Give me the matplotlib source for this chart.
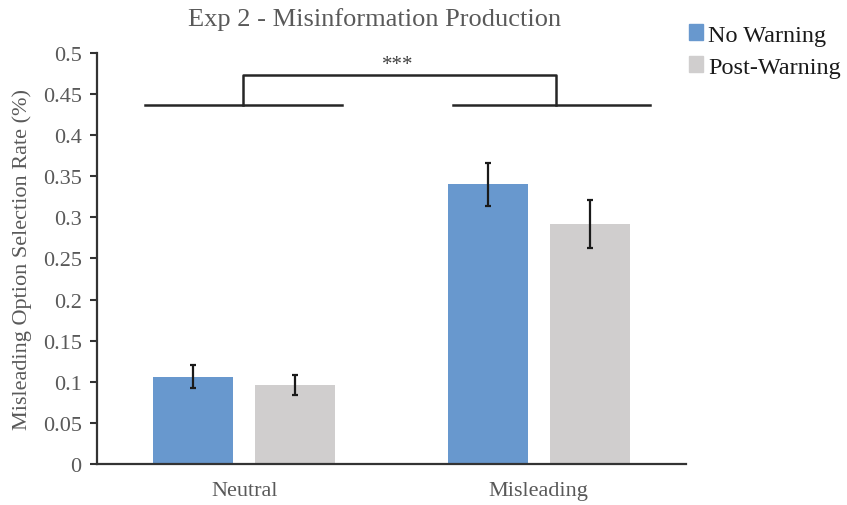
import numpy as np
import matplotlib.pyplot as plt
from matplotlib.patches import Patch

plt.rcParams['font.family'] = ['Liberation Serif', 'DejaVu Serif']

categories = ['Neutral', 'Misleading']
series = ['No Warning', 'Post-Warning']
no_warning = [0.106, 0.340]
no_warning_err = [0.014, 0.026]
post_warning = [0.096, 0.292]
post_warning_err = [0.012, 0.029]
yticks = [0, 0.05, 0.1, 0.15, 0.2, 0.25, 0.3, 0.35, 0.4, 0.45, 0.5]

blue = '#6898CE'
grey = '#D0CECE'
txt = '#595959'

fig = plt.figure(figsize=(8.47, 5.06), dpi=100)
ax = fig.add_axes([0.1145, 0.081, 0.6955, 0.8125])

x = np.arange(len(categories))
w = 0.272
off = 0.173
ekw = dict(ecolor='#1a1a1a', elinewidth=1.6, capsize=2.5, capthick=1.6)
ax.bar(x - off, no_warning, w, color=blue, yerr=no_warning_err, error_kw=ekw)
ax.bar(x + off, post_warning, w, color=grey, yerr=post_warning_err, error_kw=ekw)

# significance bracket between the two conditions
lc = '#262626'
lw = 1.8
ax.plot([-0.336, 0.332], [0.437, 0.437], color=lc, lw=lw)
ax.plot([0.708, 1.376], [0.437, 0.437], color=lc, lw=lw)
ax.plot([-0.003, -0.003, 1.058, 1.058], [0.437, 0.473, 0.473, 0.437], color=lc, lw=lw)
ax.text(0.52, 0.486, '***', ha='center', va='center', fontsize=15, color='#404040')

ax.set_xlim(-0.5, 1.5)
ax.set_ylim(0, 0.5)
ax.set_xticks(x)
ax.set_xticklabels(categories, fontsize=16, color=txt)
ax.set_yticks(yticks)
ax.set_yticklabels(['%g' % v for v in yticks], fontsize=16, color=txt)
ax.tick_params(axis='x', length=0, pad=12)
ax.tick_params(axis='y', length=5, width=1.5, color='#333333', pad=6)
for s in ['top', 'right']:
    ax.spines[s].set_visible(False)
for s in ['left', 'bottom']:
    ax.spines[s].set_linewidth(1.6)
    ax.spines[s].set_color('#333333')

ax.set_ylabel('Misleading Option Selection Rate (%)', fontsize=16, color=txt, labelpad=8)
fig.text(0.442, 0.962, 'Exp 2 - Misinformation Production', ha='center', va='center',
         fontsize=19, color=txt)

handles = [Patch(color=blue), Patch(color=grey)]
leg = fig.legend(handles, series, loc='upper left', bbox_to_anchor=(0.7875, 0.993),
                 frameon=False, fontsize=17.5, handlelength=0.58, handleheight=0.58,
                 handletextpad=0.22, labelspacing=0.45)
for t in leg.get_texts():
    t.set_color('#1a1a1a')

fig.savefig('out.png', dpi=100)
